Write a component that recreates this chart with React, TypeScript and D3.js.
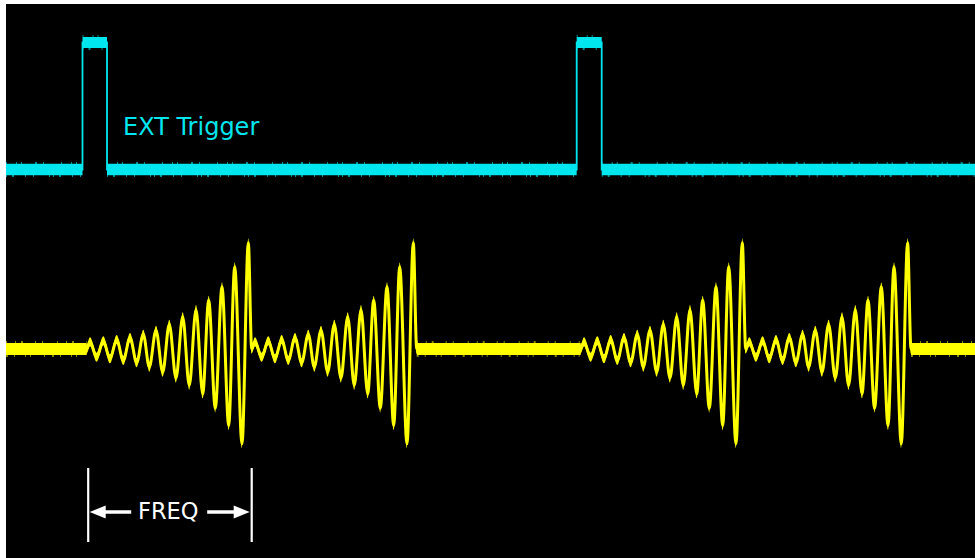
import React from "react";
import * as d3 from "d3";

// time axis in µs from the left edge of the screen
const triggerTimes = [0, 76.5, 101, 570.7, 595.7, 969];
const triggerLevels = [0, 5, 0, 5, 0, 0]; // volts

// burst timing (µs) read from the yellow channel
const burstStarts = [80.7, 245.7, 574.7, 740];
const burstLength = 165;
const peakTimes = [3.3, 16.6, 30, 43.3, 56.6, 69.3, 82.6, 96, 109.3, 122, 135.3, 148, 161.6];
const peakValues = [6.5, 7.5, 8.6, 10.5, 13.5, 17.1, 22.5, 29.3, 35.9, 44.4, 56.5, 74.7, 96.5]; // mV
const troughTimes = [10, 23.3, 36.6, 50, 62.6, 76, 89.3, 102.6, 116, 128.6, 142, 155.3];
const troughValues = [-7.5, -8.9, -10.5, -12.5, -16.5, -21.1, -26.5, -33.2, -40.7, -53.8, -69.5, -86.2]; // mV

const CYAN = "#00e6ee";
const YELLOW = "#ffff00";

export default function App() {
  const W = 975, H = 558;
  const x = d3.scaleLinear().domain([0, 969]).range([6, 975]);
  const yTrig = d3.scaleLinear().domain([0, 5]).range([169.5, 42.5]);
  const ySig = d3.scaleLinear().domain([-100, 100]).range([349 + 110, 349 - 110]);

  // trigger channel
  const trig = triggerTimes.map((t, i) => ({ t, v: triggerLevels[i] }));
  const stepLine = d3.line<any>().x(d => x(d.t)).y(d => yTrig(d.v)).curve(d3.curveStepAfter);
  const segs = trig.slice(0, -1).map((d, i) => ({ t0: d.t, t1: trig[i + 1].t, v: d.v }));

  // signal channel: one burst template, repeated at each start
  const template: { t: number; v: number }[] = [{ t: 0, v: 0 }];
  peakTimes.forEach((t, i) => {
    template.push({ t, v: peakValues[i] });
    if (i < troughTimes.length) template.push({ t: troughTimes[i], v: troughValues[i] });
  });
  template.push({ t: burstLength, v: 0 });

  const sig: { t: number; v: number }[] = [{ t: 0, v: 0 }];
  burstStarts.forEach(s => {
    template.forEach(p => {
      const t = s + p.t;
      const last = sig[sig.length - 1];
      if (Math.abs(last.t - t) < 0.5) return;
      sig.push({ t, v: p.v });
    });
  });
  sig.push({ t: 969, v: 0 });

  const half = 4.5;
  const sigArea = d3.area<any>().x(d => x(d.t)).y0(d => ySig(d.v) + half).y1(d => ySig(d.v) - half).curve(d3.curveMonotoneX);
  const sigLine = d3.line<any>().x(d => x(d.t)).y(d => ySig(d.v)).curve(d3.curveMonotoneX);

  // flat parts of the signal between bursts
  const flats: [number, number][] = [];
  let prev = 0;
  burstStarts.forEach(s => {
    if (s - prev > 1) flats.push([prev, s]);
    prev = s + burstLength;
  });
  flats.push([prev, 969]);

  // FREQ marker spans the first burst
  const fx0 = x(burstStarts[0]);
  const fx1 = x(burstStarts[0] + burstLength);
  const fmid = (fx0 + fx1) / 2;
  const fy = 512;

  return (
    <svg width={W} height={H} style={{ position: "absolute", left: 0, top: 0, background: "#fff" }}>
      <rect x={6} y={4} width={969} height={554} fill="#000" />

      {/* trigger */}
      <g>
        {segs.map((s, i) => (
          <g key={i}>
            <line x1={x(s.t0)} x2={x(s.t1)} y1={yTrig(s.v)} y2={yTrig(s.v)} stroke={CYAN}
              strokeWidth={s.v > 0 ? 11 : 11.5} />
            <line x1={x(s.t0)} x2={x(s.t1)} y1={yTrig(s.v) - 6.5} y2={yTrig(s.v) - 6.5} stroke={CYAN}
              strokeWidth={1.5} strokeDasharray="1 9 1 4 1 13 2 6 1 17" opacity={0.8} />
            <line x1={x(s.t0)} x2={x(s.t1)} y1={yTrig(s.v) + 6.5} y2={yTrig(s.v) + 6.5} stroke={CYAN}
              strokeWidth={1.5} strokeDasharray="1 5 2 11 1 7 1 15 1 3" opacity={0.8} />
          </g>
        ))}
        <path d={stepLine(trig) || ""} fill="none" stroke={CYAN} strokeWidth={1.8} />
        <text x={123} y={135} fill={CYAN} fontFamily="DejaVu Sans, Verdana, sans-serif" fontSize={24}>EXT Trigger</text>
      </g>

      {/* signal */}
      <g>
        {flats.map((f, i) => (
          <g key={i}>
            <line x1={x(f[0])} x2={x(f[1])} y1={ySig(0)} y2={ySig(0)} stroke={YELLOW} strokeWidth={12} />
            <line x1={x(f[0])} x2={x(f[1])} y1={ySig(0) - 7} y2={ySig(0) - 7} stroke={YELLOW}
              strokeWidth={1.5} strokeDasharray="1 8 1 5 2 12 1 6 1 14" opacity={0.7} />
            <line x1={x(f[0])} x2={x(f[1])} y1={ySig(0) + 7} y2={ySig(0) + 7} stroke={YELLOW}
              strokeWidth={1.5} strokeDasharray="2 6 1 10 1 4 1 13 1 7" opacity={0.7} />
          </g>
        ))}
        <path d={sigArea(sig) || ""} fill={YELLOW} />
        <path d={sigLine(sig) || ""} fill="none" stroke={YELLOW} strokeWidth={3} strokeLinejoin="round" />
      </g>

      {/* FREQ marker */}
      <g fill="#fff" stroke="#fff">
        <line x1={fx0 + 1.5} x2={fx0 + 1.5} y1={468} y2={542} strokeWidth={2.2} />
        <line x1={fx1} x2={fx1} y1={468} y2={542} strokeWidth={2.2} />
        <line x1={fx0 + 16} x2={fmid - 38} y1={fy} y2={fy} strokeWidth={3.5} />
        <line x1={fmid + 38} x2={fx1 - 16} y1={fy} y2={fy} strokeWidth={3.5} />
        <polygon points={`${fx0 + 3},${fy} ${fx0 + 19},${fy - 6.5} ${fx0 + 19},${fy + 6.5}`} strokeWidth={0} />
        <polygon points={`${fx1 - 2},${fy} ${fx1 - 18},${fy - 6.5} ${fx1 - 18},${fy + 6.5}`} strokeWidth={0} />
        <text x={fmid - 1} y={518.5} textAnchor="middle" stroke="none" fontFamily="DejaVu Sans, Verdana, sans-serif" fontSize={22.5}>FREQ</text>
      </g>
    </svg>
  );
}
